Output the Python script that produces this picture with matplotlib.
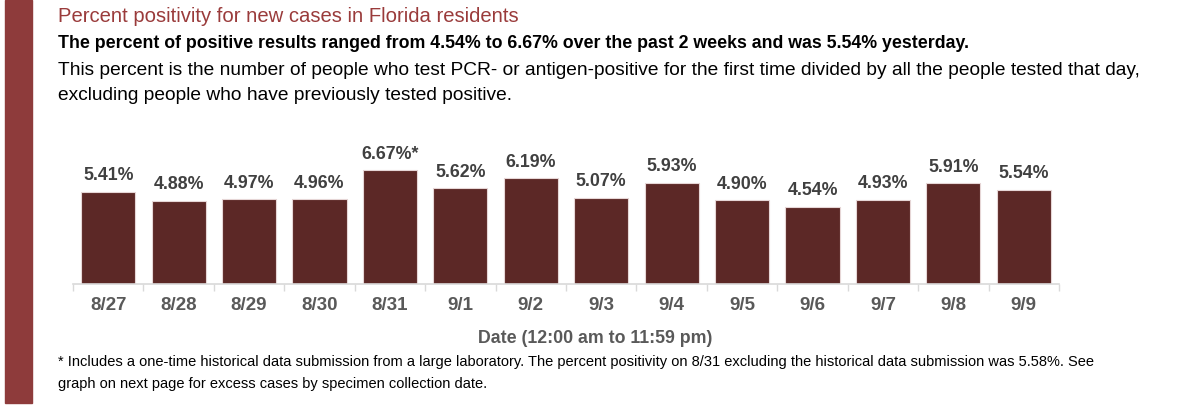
"""Percent positivity for new cases in Florida residents, daily bar chart."""

import matplotlib

matplotlib.use("Agg")
import matplotlib.pyplot as plt
from matplotlib.patches import Rectangle

dates = ["8/27", "8/28", "8/29", "8/30", "8/31", "9/1", "9/2",
         "9/3", "9/4", "9/5", "9/6", "9/7", "9/8", "9/9"]
positivity = [5.41, 4.88, 4.97, 4.96, 6.67, 5.62, 6.19,
              5.07, 5.93, 4.90, 4.54, 4.93, 5.91, 5.54]
footnoted = ["8/31"]

title = "Percent positivity for new cases in Florida residents"
subtitle = ("The percent of positive results ranged from 4.54% to 6.67% over the "
            "past 2 weeks and was 5.54% yesterday.")
description = ("This percent is the number of people who test PCR- or antigen-positive "
               "for the first time divided by all the people tested that day,\n"
               "excluding people who have previously tested positive.")
xlabel = "Date (12:00 am to 11:59 pm)"
footnote = ("* Includes a one-time historical data submission from a large laboratory. "
            "The percent positivity on 8/31 excluding the historical data submission "
            "was 5.58%. See\ngraph on next page for excess cases by specimen collection date.")

BAR_COLOR = "#5c2826"
BAND_COLOR = "#8e3b3b"
TITLE_COLOR = "#9a3b3b"
SANS = ["Liberation Sans", "DejaVu Sans"]

fig = plt.figure(figsize=(12, 4.19), dpi=100)

# left decorative band
fig.patches.append(Rectangle((5 / 1200, 1 - 403 / 419), 27 / 1200, 403 / 419,
                             transform=fig.transFigure, color=BAND_COLOR, zorder=0))

fig.text(58 / 1200, 1 - 17 / 419, title, color=TITLE_COLOR, fontsize=14.6,
         family=SANS, va="center", ha="left")
fig.text(58 / 1200, 1 - 44 / 419, subtitle, color="black", fontsize=12.8,
         family=SANS, weight="bold", va="center", ha="left")
fig.text(58 / 1200, 1 - 83 / 419, description, color="black", fontsize=13.75,
         family=SANS, va="center", ha="left", linespacing=1.55)

ax = fig.add_axes([73 / 1200, 1 - 284 / 419, 986 / 1200, 136.4 / 419])
x = list(range(len(dates)))
bars = ax.bar(x, positivity, width=0.77, color=BAR_COLOR,
              edgecolor="#e6d6d6", linewidth=0.8)
for xi, d, v in zip(x, dates, positivity):
    label = f"{v:.2f}%" + ("*" if d in footnoted else "")
    ax.annotate(label, (xi, v), xytext=(0, 5.5), textcoords="offset points",
                ha="center", va="bottom", fontsize=12.8, weight="bold",
                color="#404040", family=SANS)

ax.set_xlim(-0.5, len(dates) - 0.5)
ax.set_ylim(0, 8)
ax.set_xticks([i - 0.5 for i in range(len(dates) + 1)], minor=False)
ax.set_xticklabels([""] * (len(dates) + 1))
ax.set_xticks(x, minor=True)
ax.set_xticklabels(dates, minor=True, fontsize=13.5, weight="bold",
                   color="#595959", family=SANS)
ax.tick_params(axis="x", which="major", length=5, color="#d9d9d9", width=1)
ax.tick_params(axis="x", which="minor", length=0, pad=9)
ax.set_yticks([])
for side in ["left", "right", "top"]:
    ax.spines[side].set_visible(False)
ax.spines["bottom"].set_color("#d9d9d9")
ax.spines["bottom"].set_linewidth(1.2)

fig.text(595 / 1200, 1 - 338 / 419, xlabel, color="#595959",
         fontsize=12.8, weight="bold", family=SANS, ha="center", va="center")
fig.text(58 / 1200, 1 - 373 / 419, footnote, color="black", fontsize=10.5,
         family=SANS, va="center", ha="left", linespacing=1.75)

fig.savefig("out.png", dpi=100)
